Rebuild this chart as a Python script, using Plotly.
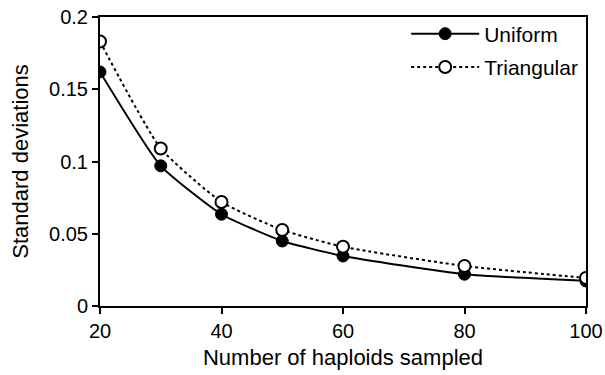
import plotly.graph_objects as go

haploids = [20, 30, 40, 50, 60, 80, 100]
uniform = [0.162, 0.097, 0.0635, 0.045, 0.0346, 0.022, 0.0173]
triangular = [0.183, 0.109, 0.072, 0.0526, 0.041, 0.0277, 0.0194]
x_ticks = [20, 40, 60, 80, 100]
y_ticks = [0, 0.05, 0.1, 0.15, 0.2]
y_tick_labels = ["0", "0.05", "0.1", "0.15", "0.2"]

fig = go.Figure()
fig.add_trace(go.Scatter(
    x=haploids, y=uniform, name="Uniform", mode="lines+markers", legendgroup="u",
    line=dict(color="black", width=2, shape="spline", smoothing=0.5),
    marker=dict(symbol="circle", size=12, color="black", line=dict(color="black", width=1)),
))
fig.add_trace(go.Scatter(
    x=haploids, y=triangular, name="Triangular", mode="lines+markers", legendgroup="t",
    line=dict(color="black", width=2, dash="dot", shape="spline", smoothing=0.5),
    marker=dict(symbol="circle", size=12, color="white", line=dict(color="black", width=2)),
))

font_family = "Liberation Sans, Arial, Helvetica, sans-serif"
fig.update_layout(
    width=605, height=375,
    margin=dict(l=100, r=19, t=17, b=69, autoexpand=False),
    paper_bgcolor="white", plot_bgcolor="white",
    font=dict(family=font_family, size=20, color="black"),
    showlegend=True,
    legend=dict(x=0.63, y=1.012, xanchor="left", yanchor="top", traceorder="grouped",
                bgcolor="rgba(0,0,0,0)", font=dict(size=21), tracegroupgap=3,
                itemwidth=68),
    xaxis=dict(range=[20, 100], tickvals=x_ticks, ticks="outside", ticklen=6,
               tickwidth=2, tickcolor="black", showline=True, linecolor="black",
               linewidth=2, mirror=True, showgrid=False, zeroline=False, automargin=False,
               tickfont=dict(size=20),
               title=dict(text="Number of haploids sampled", font=dict(size=22), standoff=9)),
    yaxis=dict(range=[0, 0.2], tickvals=y_ticks, ticktext=y_tick_labels, ticks="outside",
               ticklen=6, tickwidth=2, tickcolor="black", showline=True, linecolor="black",
               linewidth=2, mirror=True, showgrid=False, zeroline=False, automargin=False,
               tickfont=dict(size=20),
               title=dict(text="Standard deviations", font=dict(size=22), standoff=14)),
)

fig.write_html("out.html", config={"displayModeBar": False},
               post_script="document.body.style.margin='0px';")
